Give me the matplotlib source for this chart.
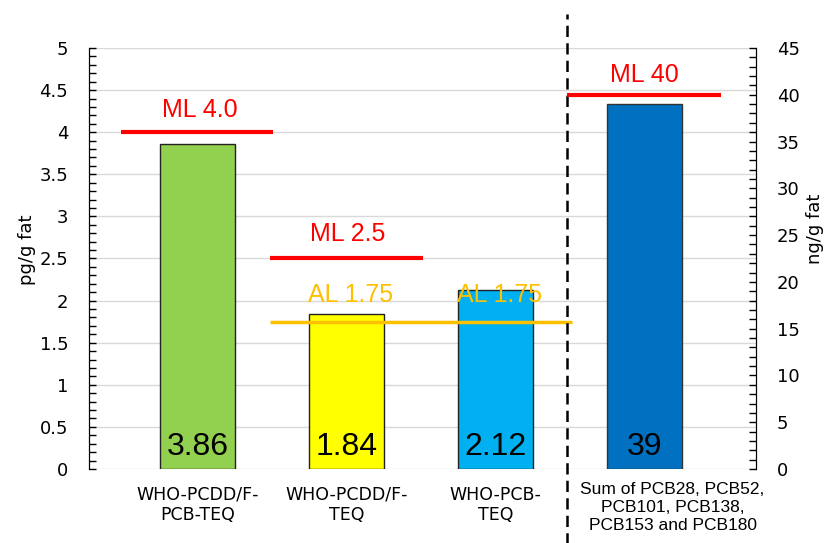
import numpy as np
import matplotlib
matplotlib.use("Agg")
import matplotlib.pyplot as plt
import matplotlib.transforms as mtransforms
from matplotlib.ticker import MultipleLocator

# ---- data ----
categories = ["WHO-PCDD/F-\nPCB-TEQ", "WHO-PCDD/F-\nTEQ", "WHO-PCB-\nTEQ"]
sum_label = "Sum of PCB28, PCB52,\nPCB101, PCB138,\nPCB153 and PCB180"
teq_values = [3.86, 1.84, 2.12]          # pg/g fat (left axis)
pcb_values = [39]                         # ng/g fat (right axis)
teq_colors = ["#92D050", "#FFFF00", "#00B0F0"]
pcb_color = "#0070C0"
ml_teq = [4.0, 2.5]
al_teq = 1.75
ml_pcb = 40

RED = "#FF0000"
ORANGE = "#FFC000"

fig = plt.figure(figsize=(8.3, 5.43), dpi=100)
ax = fig.add_axes([0.1072, 0.1363, 0.9108 - 0.1072, 0.9116 - 0.1363])
ax2 = ax.twinx()

x = np.arange(len(teq_values))
x4 = len(teq_values)

# bars
ax.bar(x, teq_values, width=0.5, color=teq_colors, edgecolor="#222222", linewidth=1, zorder=3)
ax2.bar([x4], pcb_values, width=0.5, color=pcb_color, edgecolor="#333333", linewidth=1, zorder=3)

# limits
ax.set_xlim(-0.73, 3.75)
ax.set_ylim(0, 5)
ax2.set_ylim(0, 45)

# level lines
ax.plot([-0.514, 0.507], [ml_teq[0]] * 2, color=RED, lw=3, solid_capstyle="butt", zorder=4)
ax.plot([0.487, 1.513], [ml_teq[1]] * 2, color=RED, lw=3, solid_capstyle="butt", zorder=4)
ax.plot([0.487, 2.514], [al_teq] * 2, color=ORANGE, lw=2.5, solid_capstyle="butt", zorder=4)
ax2.plot([2.48, 3.513], [ml_pcb] * 2, color=RED, lw=3, solid_capstyle="butt", zorder=4)

lab_font = dict(family="Liberation Sans", fontsize=18, ha="center", va="baseline")
ax.text(0.017, 4.18, f"ML {ml_teq[0]:.1f}", color=RED, **lab_font)
ax.text(1.01, 2.71, f"ML {ml_teq[1]:.1f}", color=RED, **lab_font)
ax.text(1.03, 1.98, f"AL {al_teq}", color=ORANGE, zorder=5, **lab_font)
ax.text(2.03, 1.98, f"AL {al_teq}", color=ORANGE, zorder=5, **lab_font)
ax2.text(3.0, 41.4, f"ML {ml_pcb}", color=RED, **lab_font)

# values in bars
val_font = dict(family="Liberation Sans", fontsize=23, ha="center", va="baseline", zorder=6)
for xi, v in zip(x, teq_values):
    ax.text(xi, 0.166, f"{v:.2f}", **val_font)
ax2.text(x4, 0.166 * 9, f"{pcb_values[0]}", **val_font)

# divider
ax.axvline(2.48, ymin=-0.2, ymax=1.081, color="black", lw=1.8, dashes=(4.5, 2.5), clip_on=False, zorder=5)

# axes styling
ax.grid(axis="y", color="#d9d9d9", lw=1)
ax.set_axisbelow(True)
for a in (ax, ax2):
    a.spines["top"].set_visible(False)
    a.spines["bottom"].set_visible(False)
ax.yaxis.set_major_locator(MultipleLocator(0.5))
ax.yaxis.set_minor_locator(MultipleLocator(0.1))
ax2.yaxis.set_major_locator(MultipleLocator(5))
ax2.yaxis.set_minor_locator(MultipleLocator(1))
ax.set_yticks(np.arange(0, 5.01, 0.5))
ax.set_yticklabels([f"{v:g}" for v in np.arange(0, 5.01, 0.5)])
ax.tick_params(axis="y", which="both", direction="in", length=5, width=1, labelsize=13, pad=15)
ax2.tick_params(axis="y", which="both", direction="in", length=5, width=1, labelsize=13, pad=15)

ax.set_xticks(x)
ax.set_xticklabels(categories, fontsize=12.5)
ax.tick_params(axis="x", length=0, pad=12)
ax.text(3.19, -0.03, sum_label, transform=mtransforms.blended_transform_factory(ax.transData, ax.transAxes),
        ha="center", va="top", family="Liberation Sans", fontsize=12.5, linespacing=1.25)

ax.set_ylabel("pg/g fat", fontsize=13)
ax.yaxis.set_label_coords(-0.08, 0.52)
ax2.set_ylabel("ng/g fat", fontsize=13, rotation=90)
ax2.yaxis.set_label_coords(1.075, 0.57)

fig.savefig("out.png", dpi=100)
